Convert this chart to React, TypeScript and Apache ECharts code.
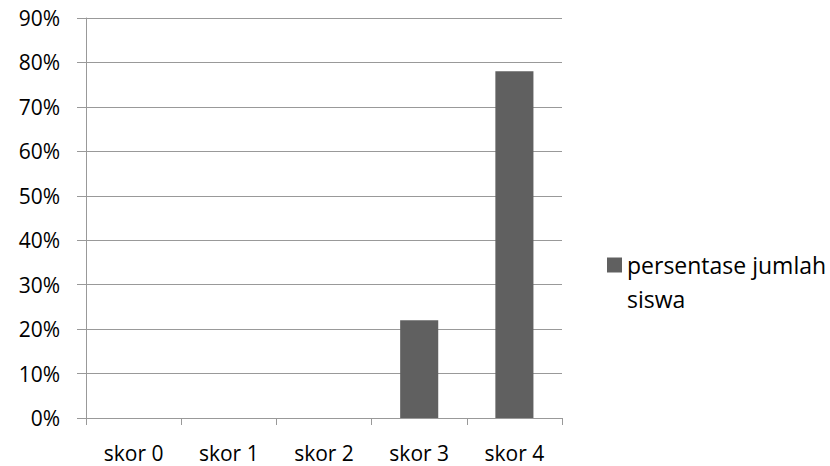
import React, { useEffect, useRef } from "react";
import * as echarts from "echarts";

const categories = ["skor 0", "skor 1", "skor 2", "skor 3", "skor 4"];
const values = [0, 0, 0, 0.22, 0.78];
const seriesName = "persentase jumlah siswa";
const yMin = 0;
const yMax = 0.9;
const yStep = 0.1;

export default function App() {
  const ref = useRef<HTMLDivElement>(null);
  useEffect(() => {
    if (!ref.current) return;
    const chart = echarts.init(ref.current, undefined, { renderer: "svg" });
    const font = "Open Sans";
    const gray = "#999999";
    chart.setOption({
      animation: false,
      backgroundColor: "#ffffff",
      textStyle: { fontFamily: font },
      grid: { left: 86, right: 268, top: 18, bottom: 48, containLabel: false },
      legend: {
        show: true,
        orient: "vertical",
        left: 607,
        top: 214,
        padding: 0,
        itemWidth: 15,
        itemHeight: 15,
        itemGap: 0,
        icon: "rect",
        data: [seriesName],
        formatter: () => " \npersentase jumlah\nsiswa",
        textStyle: {
          fontFamily: font,
          fontSize: 23,
          color: "#000",
          lineHeight: 34,
        },
      },
      xAxis: {
        type: "category",
        data: categories,
        axisLine: { show: true, lineStyle: { color: gray, width: 1 } },
        axisTick: { show: true, length: 7, alignWithLabel: false, lineStyle: { color: gray } },
        axisLabel: { fontFamily: font, fontSize: 21, color: "#000", margin: 24 },
        splitLine: { show: false },
      },
      yAxis: {
        type: "value",
        min: yMin,
        max: yMax,
        interval: yStep,
        axisLine: { show: true, lineStyle: { color: gray, width: 1 } },
        axisTick: { show: true, length: 9, lineStyle: { color: gray } },
        axisLabel: {
          fontFamily: font,
          fontSize: 21,
          color: "#000",
          margin: 26,
          formatter: (v: number) => Math.round(v * 100) + "%",
        },
        splitLine: { show: true, lineStyle: { color: gray, width: 1 } },
      },
      series: [
        {
          name: seriesName,
          type: "bar",
          data: values,
          barWidth: "40%",
          itemStyle: { color: "#606060" },
        },
      ],
    });
    return () => chart.dispose();
  }, []);
  return <div ref={ref} style={{ width: 830, height: 466, position: "absolute", left: 0, top: 0 }} />;
}
